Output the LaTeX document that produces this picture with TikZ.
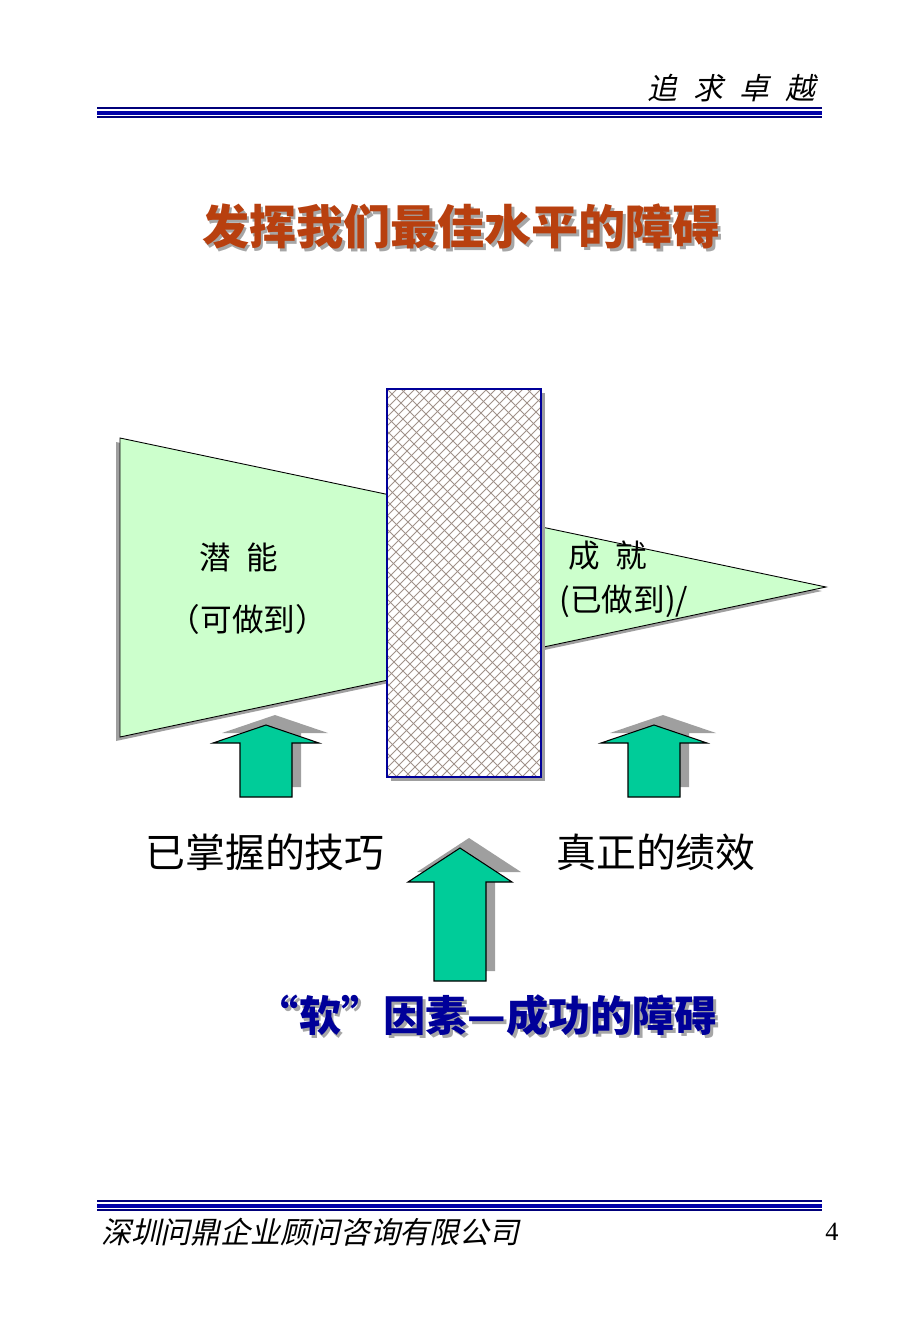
\documentclass[tikz,border=0pt]{standalone}
\usepackage{fontspec}
\newfontfamily\cjk{Noto Sans CJK SC}
\newfontfamily\cjkit[FakeSlant=0.22]{Noto Sans CJK SC}
\newfontfamily\numfont{Liberation Serif}
\usetikzlibrary{positioning}
\definecolor{mintgreen}{HTML}{CCFFCC}
\definecolor{arrgreen}{HTML}{00CC99}
\definecolor{navy}{HTML}{000099}
\definecolor{rustred}{HTML}{B8400F}
\definecolor{meshbrown}{HTML}{A0928A}
\newcommand{\shadx}{9}
\newcommand{\shady}{-10}
% text with a grey drop shadow behind it
\newcommand{\shadtext}[1]{\makebox[0pt][l]{\hspace{1.6pt}\raisebox{-1.6pt}{\color{gray!70}#1}}#1}
% block arrow: centre x, tip y, head base y, bottom y, head half width, shaft half width
\newcommand{\arrpath}[6]{(#1,#2) -- (#1+#5,#3) -- (#1+#6,#3) -- (#1+#6,#4)
	-- (#1-#6,#4) -- (#1-#6,#3) -- (#1-#5,#3) -- cycle}
\newcommand{\uparr}[6]{
	\begin{scope}[shift={(\shadx,\shady)}]
	\fill [shade] \arrpath{#1}{#2}{#3}{#4}{#5}{#6};
	\end{scope}
	\draw [blockarr] \arrpath{#1}{#2}{#3}{#4}{#5}{#6};
	}
\newcommand{\rules}[1]{
	\draw [rulethin] (97,#1) -- (822,#1);
	\draw [rulethick] (97,#1+5) -- (822,#1+5);
	\draw [rulethin] (97,#1+9) -- (822,#1+9);
	}

\begin{document}
\begin{tikzpicture}[
      x=0.02cm, y=-0.02cm, %one unit is one pixel of the page
      shade/.style={gray!75},
      blockarr/.style={fill=arrgreen, draw=black, line width=0.6pt, line join=miter},
      rulethin/.style={navy!80!black, line width=0.9pt},
      rulethick/.style={navy!85!blue, line width=2.4pt},
      cone/.style={fill=mintgreen, draw=black, line width=0.5pt},
      wall/.style={draw=navy, line width=1.2pt},
      mesh/.style={meshbrown, line width=0.45pt},
      body/.style={font=\cjk\fontsize{22.7}{26}\selectfont},
      inner/.style={font=\cjk\fontsize{18}{21}\selectfont},
      title/.style={font=\cjk\bfseries\fontsize{26.8}{30}\selectfont},
      slogan/.style={font=\cjk\bfseries\fontsize{24}{28}\selectfont}
    ]
    \useasboundingbox (0,0) rectangle (920,1329);
    % header
    \node [anchor=east, font=\cjkit\fontsize{17}{20}\selectfont] (motto) at (822,88)
        {追\hspace{0.55em}求\hspace{0.55em}卓\hspace{0.55em}越};
    \rules{108}
    % title
    \node [title, rustred] (titletext) at (461,228) {\shadtext{发挥我们最佳水平的障碍}};
    % the cone: potential narrowing to achievement
    \fill [shade] (116,442) -- (822,591) -- (116,741) -- cycle;
    \draw [cone] (120,438) -- (826,587) -- (120,737) -- cycle;
    % the wall in the middle
    \fill [shade] (391,393) rectangle (545,781);
    \fill [white] (387,389) rectangle (541,777);
    \begin{scope}
    \clip (387,389) rectangle (541,777);
    \foreach \k in {-9,0,...,545}
        \draw [mesh] (\k,777) -- ++(400,-400);
    \foreach \k in {383,397,...,935}
        \draw [mesh] (\k,777) -- ++(-400,-400);
    \end{scope}
    \draw [wall] (387,389) rectangle (541,777);
    % labels in the cone
    \node [inner] (potential) at (239,557) {潜\hspace{0.5em}能};
    \node [inner] (potentialsub) at (248,619) {（可做到）};
    \node [inner] (achieve) at (608,556) {成\hspace{0.5em}就};
    \node [inner] (achievesub) at (624,601) {(已做到)/};
    % arrows
    \uparr{266}{725}{743}{797}{53}{26}
    \uparr{654}{725}{743}{797}{53}{26}
    \uparr{460}{848}{882}{981}{52}{26}
    % labels under the arrows
    \node [body] (skills) at (265,852) {已掌握的技巧};
    \node [body] (perform) at (656,852) {真正的绩效};
    \node [slogan, navy] (soft) at (487,1017) {\shadtext{“软”因素—成功的障碍}};
    % footer
    \rules{1201}
    \node [anchor=west, font=\cjkit\fontsize{17}{20}\selectfont] (company) at (95,1232) {深圳问鼎企业顾问咨询有限公司};
    \node [font=\numfont\fontsize{15}{18}\selectfont] (pageno) at (832,1232) {4};
\end{tikzpicture}
\end{document}
